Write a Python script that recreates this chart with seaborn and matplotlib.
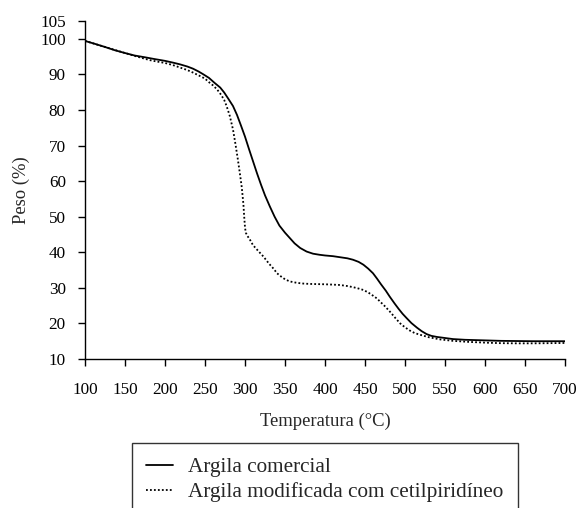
import pandas as pd
import matplotlib
matplotlib.use("Agg")
import matplotlib.pyplot as plt
import seaborn as sns

# Curva TGA - argila comercial
temp_comercial = [100, 112, 125, 137, 150, 162, 175, 187, 200, 210, 219, 228,
                  235, 242, 248, 255, 262, 269, 274, 279, 285, 290, 295, 300,
                  305, 310, 315, 320, 325, 331, 337, 343, 350, 356, 362, 369,
                  377, 385, 393, 400, 410, 419, 428, 435, 442, 448, 454, 460,
                  465, 470, 476, 481, 487, 492, 497, 502, 508, 515, 521, 527,
                  533, 540, 550, 560, 575, 590, 605, 620, 640, 660, 680, 700]
peso_comercial = [99.4, 98.6, 97.7, 96.8, 96.0, 95.3, 94.8, 94.3, 93.8, 93.3,
                  92.8, 92.2, 91.6, 90.8, 90.0, 89.0, 87.6, 86.3, 84.9, 83.2,
                  81.1, 78.6, 75.6, 72.5, 69.0, 65.6, 62.2, 59.0, 56.0, 52.9,
                  50.0, 47.5, 45.5, 44.0, 42.5, 41.2, 40.2, 39.6, 39.3, 39.1,
                  38.9, 38.6, 38.3, 37.9, 37.3, 36.5, 35.4, 34.1, 32.6, 31.0,
                  29.2, 27.5, 25.6, 24.1, 22.7, 21.5, 20.1, 18.8, 17.8, 17.0,
                  16.5, 16.2, 15.9, 15.6, 15.4, 15.3, 15.2, 15.1, 15.05, 15.0,
                  15.0, 15.0]

# Curva TGA - argila modificada com cetilpiridineo
temp_modificada = [100, 125, 150, 165, 181, 190, 200, 210, 219, 228, 235, 244,
                   250, 255, 260, 265, 270, 274, 277, 281, 285, 288, 291, 294,
                   296, 298, 299, 300, 301, 303, 306, 310, 316, 323, 330, 336,
                   340, 345, 350, 356, 365, 373, 381, 390, 400, 410, 419, 428,
                   435, 442, 448, 454, 460, 465, 469, 475, 482, 488, 494, 500,
                   506, 512, 519, 530, 544, 560, 580, 600, 619, 640, 660, 680,
                   700]
peso_modificada = [99.4, 97.7, 96.0, 95.0, 94.0, 93.6, 93.2, 92.6, 91.9, 91.2,
                   90.5, 89.5, 88.8, 87.8, 86.9, 85.8, 84.3, 82.8, 81.1, 78.3,
                   74.5, 70.5, 66.2, 61.5, 58.2, 53.5, 50.0, 47.0, 45.5, 44.6,
                   43.6, 42.0, 40.5, 38.8, 36.8, 35.3, 34.1, 33.2, 32.4, 31.8,
                   31.4, 31.2, 31.1, 31.05, 31.0, 30.9, 30.8, 30.5, 30.2, 29.8,
                   29.4, 28.7, 27.8, 27.0, 26.1, 24.8, 23.1, 21.5, 20.0, 18.9,
                   18.0, 17.3, 16.8, 16.1, 15.5, 15.1, 14.8, 14.6, 14.45, 14.4,
                   14.4, 14.45, 14.5]

x_ticks = [100, 150, 200, 250, 300, 350, 400, 450, 500, 550, 600, 650, 700]
y_ticks = [10, 20, 30, 40, 50, 60, 70, 80, 90, 100, 105]

df_com = pd.DataFrame({"Temperatura": temp_comercial, "Peso": peso_comercial})
df_mod = pd.DataFrame({"Temperatura": temp_modificada, "Peso": peso_modificada})

sns.set_style("ticks")
plt.rcParams["font.family"] = ["Liberation Serif", "DejaVu Serif"]

fig = plt.figure(figsize=(5.81, 5.08), dpi=100)
ax = fig.add_axes([85 / 581, 1 - 359 / 508, 480 / 581, 338 / 508])

sns.lineplot(data=df_com, x="Temperatura", y="Peso", ax=ax, color="black",
             linewidth=1.3, label="Argila comercial")
sns.lineplot(data=df_mod, x="Temperatura", y="Peso", ax=ax, color="black",
             linewidth=1.3, linestyle=(0, (1, 1.2)),
             label="Argila modificada com cetilpiridíneo")

ax.set_xlim(100, 700)
ax.set_ylim(10, 105)
ax.set_xticks(x_ticks)
ax.set_yticks(y_ticks)
ax.tick_params(axis="both", direction="out", length=4.8, width=1, color="black",
               labelsize=12.3, labelcolor="black")
ax.tick_params(axis="x", pad=12)
ax.tick_params(axis="y", pad=9)
for side in ["top", "right"]:
    ax.spines[side].set_visible(False)
for side in ["left", "bottom"]:
    ax.spines[side].set_color("black")
    ax.spines[side].set_linewidth(1)

ax.set_xlabel("Temperatura (°C)", fontsize=13.4, labelpad=10)
ax.set_ylabel("Peso (%)", fontsize=13.4, labelpad=7)

handles, labels = ax.get_legend_handles_labels()
ax.get_legend().remove()
leg = fig.legend(handles, labels, loc="upper left",
                 bbox_to_anchor=(131.7 / 581, 0, 386.6 / 581, 1 - 442.7 / 508),
                 mode="expand", frameon=True, fancybox=False, shadow=False,
                 edgecolor="black", fontsize=15.3, handlelength=1.27,
                 handletextpad=0.7, borderpad=0.68, labelspacing=0.25,
                 borderaxespad=0)
leg.get_frame().set_linewidth(1)

fig.savefig("out.png", dpi=100)
